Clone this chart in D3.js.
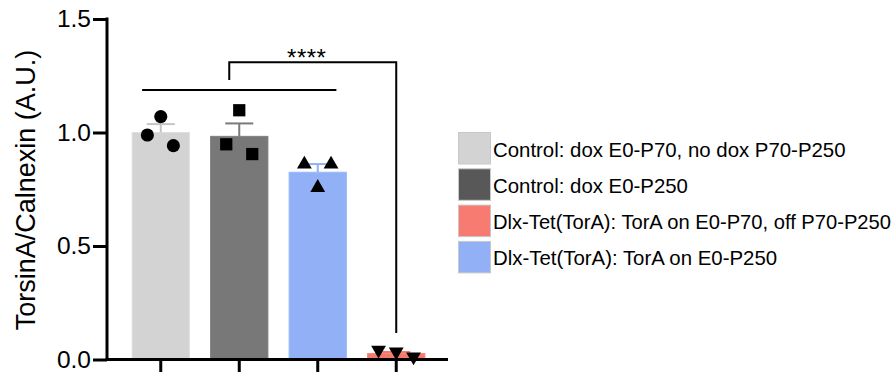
<!DOCTYPE html>
<html>
<head>
<meta charset="utf-8">
<script src="https://cdn.jsdelivr.net/npm/d3@7"></script>
<style>
  html, body { margin: 0; padding: 0; background: #fff; }
  svg { display: block; font-family: "Liberation Sans", Arial, Helvetica, sans-serif; }
</style>
</head>
<body>
<svg id="chart" width="896" height="372"></svg>
<script>
// ---- data ----
const categories = ["ctrlOff", "ctrlOn", "toraOn", "toraOff"];
const barLabels = [
  "Control: dox E0-P70, no dox P70-P250",
  "Control: dox E0-P250",
  "Dlx-Tet(TorA): TorA on E0-P250",
  "Dlx-Tet(TorA): TorA on E0-P70, off P70-P250"
];
const means = [1.0, 0.983, 0.825, 0.026];
const sems = [0.037, 0.057, 0.036, 0.007];
const points = [
  [1.07, 0.989, 0.942],
  [1.098, 0.948, 0.905],
  [0.86, 0.86, 0.757],
  [0.042, 0.034, 0.012]
];
const pointOffsets = [
  [0, -13.4, 12.6],
  [0, -13, 13],
  [-13.4, 13.3, 0],
  [-17.7, 0, 17.3]
];
const markerTypes = ["circle", "square", "triangle", "triangleDown"];
const barColors = ["#d3d3d3", "#787878", "#91b0f5", "#f47a6e"];
const errColors = ["#c4c4c4", "#7a7a7a", "#91b0f5", "#f47a6e"];
const legendLabels = [
  "Control: dox E0-P70, no dox P70-P250",
  "Control: dox E0-P250",
  "Dlx-Tet(TorA): TorA on E0-P70, off P70-P250",
  "Dlx-Tet(TorA): TorA on E0-P250"
];
const legendColors = ["#d3d3d3", "#585858", "#f77b70", "#91b0f5"];
const yTicks = [0, 0.5, 1.0, 1.5];
const yTitle = "TorsinA/Calnexin (A.U.)";
const sigLabel = "****";
const groupLineValue = 1.187;
const bracketTopValue = 1.309;
const bracketLeftBottomValue = 1.231;
const bracketRightBottomValue = 0.117;

// ---- scales ----
const svg = d3.select("#chart");
const y = d3.scaleLinear().domain([0, 1.5]).range([359.5, 19]);
const x = d3.scaleBand().domain(categories).range([107, 450]).paddingInner(0.27).paddingOuter(0.32);
const bw = x.bandwidth();
const cx = c => x(c) + bw / 2;

// ---- bars ----
svg.append("g").selectAll("rect").data(categories).join("rect")
  .attr("x", d => x(d))
  .attr("width", bw)
  .attr("y", (d, i) => y(means[i]))
  .attr("height", (d, i) => y(0) - y(means[i]))
  .attr("fill", (d, i) => barColors[i])
  .attr("stroke", (d, i) => d3.color(barColors[i]).brighter(0.15))
  .attr("stroke-width", 1);

// ---- error bars ----
const eg = svg.append("g");
categories.forEach((c, i) => {
  const top = y(means[i] + sems[i]);
  eg.append("line").attr("x1", cx(c)).attr("x2", cx(c))
    .attr("y1", y(means[i])).attr("y2", top)
    .attr("stroke", errColors[i]).attr("stroke-width", 2);
  eg.append("line").attr("x1", cx(c) - 14).attr("x2", cx(c) + 14)
    .attr("y1", top).attr("y2", top)
    .attr("stroke", errColors[i]).attr("stroke-width", 2);
});

// ---- points ----
const sym = {
  circle: d3.symbol(d3.symbolCircle, 135),
  square: d3.symbol(d3.symbolSquare, 150),
  triangle: d3.symbol(d3.symbolTriangle, 95)
};
const pg = svg.append("g");
categories.forEach((c, i) => {
  points[i].forEach((v, j) => {
    const px = cx(c) + pointOffsets[i][j];
    const py = y(v);
    const t = markerTypes[i];
    const gen = t === "triangleDown" ? sym.triangle : sym[t];
    pg.append("path")
      .attr("d", gen())
      .attr("transform", `translate(${px},${py})` + (t === "triangleDown" ? " rotate(180)" : ""))
      .attr("fill", "#000");
  });
});

// ---- axes ----
const yAxis = svg.append("g").attr("transform", "translate(107,0)")
  .call(d3.axisLeft(y).tickValues(yTicks).tickFormat(d3.format(".1f")).tickSize(14).tickSizeOuter(0).tickPadding(2));
yAxis.selectAll("path, line").attr("stroke", "#000").attr("stroke-width", 3);
yAxis.select(".domain").attr("d", `M0,${y(0) + 1.5}V${y(1.5) - 1.5}`);
yAxis.selectAll("text").attr("font-size", 24.5).attr("fill", "#000")
  .attr("font-family", "'Liberation Sans', Arial, sans-serif");

const xAxis = svg.append("g").attr("transform", `translate(0,${y(0)})`)
  .call(d3.axisBottom(x).tickFormat("").tickSize(15).tickSizeOuter(0));
xAxis.selectAll("path, line").attr("stroke", "#000").attr("stroke-width", 3);
xAxis.select(".domain").attr("d", "M105.5,0H448");

// ---- y title ----
svg.append("text")
  .attr("transform", `translate(35,190) rotate(-90)`)
  .attr("text-anchor", "middle")
  .attr("font-size", 27)
  .attr("fill", "#000")
  .text(yTitle);

// ---- significance ----
const sg = svg.append("g").attr("fill", "none").attr("stroke", "#000").attr("stroke-width", 2);
sg.append("line")
  .attr("x1", x(categories[0]) + 10).attr("x2", x(categories[2]) + bw - 10)
  .attr("y1", y(groupLineValue)).attr("y2", y(groupLineValue));
const bl = cx(categories[1]) - 10, br = cx(categories[3]);
sg.append("path")
  .attr("d", `M${bl},${y(bracketLeftBottomValue)}V${y(bracketTopValue)}H${br}V${y(bracketRightBottomValue)}`);
svg.append("text")
  .attr("x", (bl + br) / 2 - 6)
  .attr("y", y(bracketTopValue) + 4)
  .attr("text-anchor", "middle")
  .attr("font-size", 24)
  .attr("letter-spacing", 0.5)
  .attr("fill", "#000")
  .text(sigLabel);

// ---- legend ----
const lg = svg.append("g").attr("transform", "translate(458.5,132.5)");
legendLabels.forEach((l, i) => {
  const row = lg.append("g").attr("transform", `translate(0,${i * 36.3})`);
  row.append("rect").attr("width", 32).attr("height", 31.5)
    .attr("fill", legendColors[i]).attr("stroke", "#c8c8c8").attr("stroke-width", 1);
  const t = row.append("text").attr("x", 34.5).attr("y", 24)
    .attr("font-size", 20.4).attr("fill", "#000").text(l);
  const maxW = 398;
  if (t.node().getComputedTextLength() > maxW) {
    t.attr("textLength", maxW).attr("lengthAdjust", "spacingAndGlyphs");
  }
});
</script>
</body>
</html>
